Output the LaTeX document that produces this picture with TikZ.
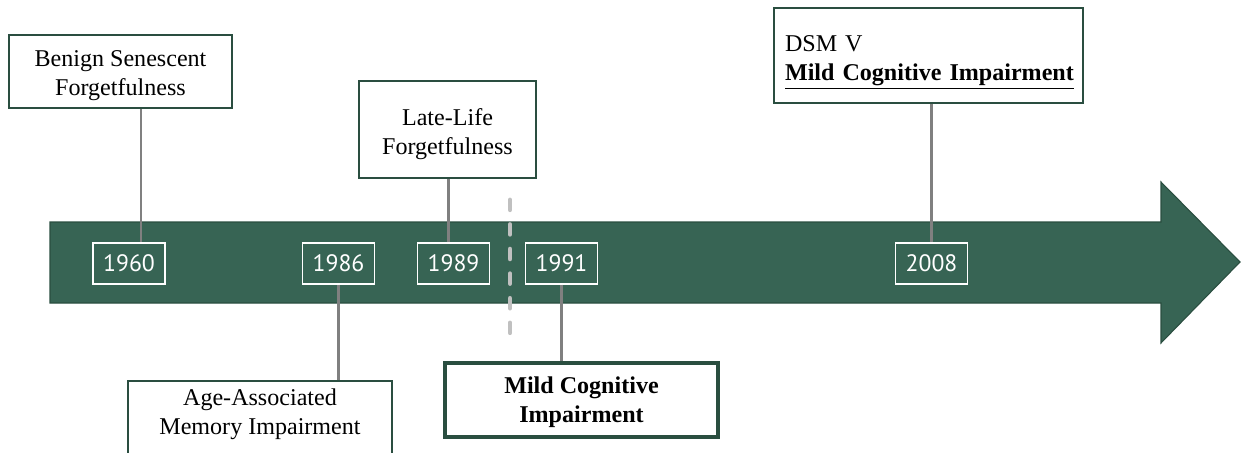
\documentclass[tikz,border=0pt]{standalone}
\usepackage{fontspec}
\setmainfont{Liberation Serif}
\newfontfamily\yearfont{PT Sans}
\usetikzlibrary{positioning, calc}
\definecolor{timegreen}{RGB}{55, 100, 84}
\definecolor{timeedge}{RGB}{42, 78, 64}
\definecolor{stemgray}{RGB}{128, 128, 128}
\definecolor{cutgray}{RGB}{192, 192, 192}

\begin{document}
\begin{tikzpicture}[
    x=0.02cm, y=-0.02cm,
    year/.style={rectangle, draw=white, line width=0.9pt, text=white, minimum width=1.44cm, minimum height=0.82cm, inner sep=0pt, font=\yearfont\fontsize{13.5}{16}\selectfont},
    event/.style={rectangle, draw=timeedge, line width=0.9pt, fill=white, align=center, inner sep=0pt, font=\fontsize{13.7}{16.5}\selectfont},
    stem/.style={draw=stemgray, line width=1.7pt}
]
\useasboundingbox (0,0) rectangle (1241,453);

% Timeline arrow
\fill[timegreen, draw=timeedge, line width=0.6pt] (50,222) -- (1161,222) -- (1161,182) -- (1240,262)
    -- (1161,343) -- (1161,303) -- (50,303) -- cycle;

% Years
\node[year] (y1960) at (129,263.5) {1960};
\node[year] (y1986) at (338.5,263.5) {1986};
\node[year] (y1989) at (453.5,263.5) {1989};
\node[year] (y1991) at (561.5,263.5) {1991};
\node[year] (y2008) at (931.5,263.5) {2008};

% Cut between 1989 and 1991
\draw[cutgray, line width=2.8pt, line cap=round, dash pattern=on 5.5pt off 8.5pt] (510,200) -- (510,334);

% Events
\node[event, minimum width=4.46cm, minimum height=1.46cm] (benign) at (120.5,71.5) {\rule{0pt}{14pt}Benign Senescent\\Forgetfulness};
\node[event, minimum width=5.28cm, minimum height=1.5cm] (aami) at (260,418.5) {Age-Associated\\Memory Impairment\rule[-7.5pt]{0pt}{7.5pt}};
\node[event, minimum width=3.54cm, minimum height=1.94cm] (latelife) at (447.5,129.5) {\rule{0pt}{15pt}Late-Life\\Forgetfulness};
\node[event, line width=2.2pt, minimum width=5.46cm, minimum height=1.48cm, font=\bfseries\fontsize{13.7}{16.5}\selectfont] (mci) at (581.5,400) {\rule{0pt}{12.5pt}Mild Cognitive\\Impairment};
\node[event, align=left, inner xsep=0.22cm, text width=5.74cm, minimum height=1.9cm] (dsm) at (928.5,55.5) {\rule{0pt}{17.5pt}DSM V\\\textbf{\underline{Mild Cognitive Impairment}}};

% Stems
\draw[stem] ([xshift=0.24cm]y1960.north) -- ([xshift=0.24cm]y1960.north |- benign.south);
\draw[stem] (y1986.south) -- (y1986.south |- aami.north);
\draw[stem] ([xshift=-0.1cm]y1989.north) -- ([xshift=-0.1cm]y1989.north |- latelife.south);
\draw[stem] (y1991.south) -- (y1991.south |- mci.north);
\draw[stem] (y2008.north) -- (y2008.north |- dsm.south);

\end{tikzpicture}
\end{document}
